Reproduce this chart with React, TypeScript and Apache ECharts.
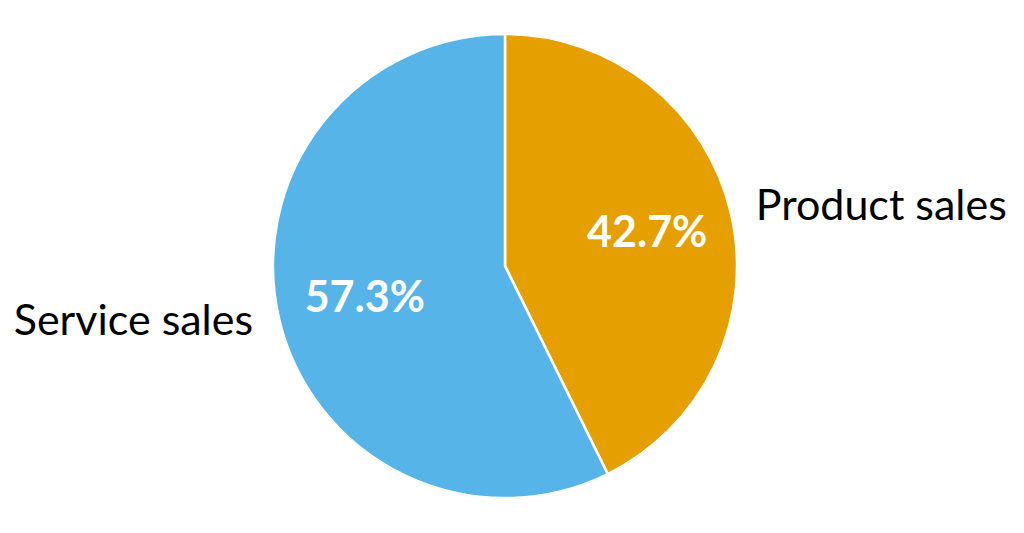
import React, { useEffect, useRef } from "react";
import * as echarts from "echarts";

const categories = ["Product sales", "Service sales"];
const shares = [42.7, 57.3];
const colors = ["#E69F00", "#56B4E9"];

// per-category outside label placement (styling, not data)
const outsideLabelStyle = [
  { length: 45, distance: -19 },
  { length: 1, distance: 25 },
];

const FONT = "Lato";

export default function App() {
  const ref = useRef<HTMLDivElement>(null);
  useEffect(() => {
    if (!ref.current) return;
    const chart = echarts.init(ref.current, null, { renderer: "svg" });
    const outerData = categories.map((name, i) => ({
      name,
      value: shares[i],
      itemStyle: { color: colors[i] },
      label: { distanceToLabelLine: outsideLabelStyle[i].distance },
      labelLine: { show: false, length: outsideLabelStyle[i].length, length2: 0 },
    }));
    const innerData = categories.map((name, i) => ({ name, value: shares[i] }));
    chart.setOption({
      animation: false,
      backgroundColor: "#ffffff",
      series: [
        {
          type: "pie",
          center: [505, 266],
          radius: [0, 232],
          startAngle: 90,
          clockwise: true,
          avoidLabelOverlap: false,
          silent: true,
          itemStyle: { borderColor: "#ffffff", borderWidth: 2.5 },
          label: {
            show: true,
            position: "outside",
            formatter: "{b}",
            color: "#000000",
            fontFamily: FONT,
            fontSize: 43,
          },
          labelLine: { show: false },
          data: outerData,
        },
        {
          type: "pie",
          center: [505, 266],
          radius: [52, 232],
          startAngle: 90,
          clockwise: true,
          avoidLabelOverlap: false,
          silent: true,
          itemStyle: { color: "rgba(0,0,0,0)", borderWidth: 0 },
          label: {
            show: true,
            position: "inside",
            offset: [1, -3],
            formatter: (p: any) => `${Number(p.value).toFixed(1)}%`,
            color: "#ffffff",
            fontFamily: FONT,
            fontWeight: "bold",
            fontSize: 43,
          },
          labelLine: { show: false },
          data: innerData,
        },
      ],
    });
    return () => chart.dispose();
  }, []);
  return (
    <div
      ref={ref}
      style={{ position: "fixed", left: 0, top: 0, width: 1024, height: 533 }}
    />
  );
}
